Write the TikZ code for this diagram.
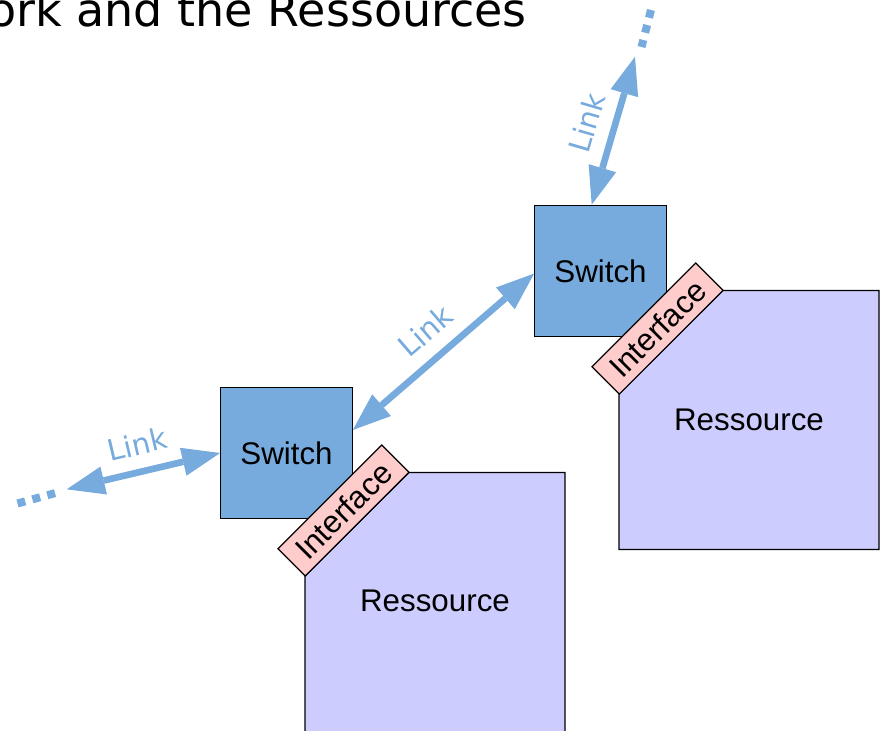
\documentclass[tikz,border=0pt]{standalone}
\usepackage{fontspec}
\setmainfont{Liberation Sans}
\newfontfamily\titlefont{DejaVu Sans}
\usetikzlibrary{arrows.meta}
\definecolor{switchblue}{RGB}{119,170,221}
\definecolor{linkblue}{RGB}{119,170,221}
\definecolor{resfill}{RGB}{204,204,255}
\definecolor{iffill}{RGB}{255,204,204}

\begin{document}
\begin{tikzpicture}[x=0.75pt,y=-0.75pt,
  outline/.style={draw=black, line width=0.9pt},
  switchbox/.style={outline, fill=switchblue, minimum width=98.6pt, minimum height=98.6pt,
    inner sep=0pt, font=\fontsize{23.5}{28}\selectfont},
  resource/.style={outline, fill=resfill},
  restext/.style={inner sep=0pt, font=\fontsize{23.5}{28}\selectfont},
  iface/.style={outline, fill=iffill, rotate=45, minimum width=110pt, minimum height=29pt,
    inner sep=0pt, font=\fontsize{23.5}{28}\selectfont},
  linkarrow/.style={draw=linkblue, line width=5pt,
    {Triangle[length=28.5pt,width=21.5pt,line width=0pt]}-{Triangle[length=28.5pt,width=21.5pt,line width=0pt]}},
  linklabel/.style={text=linkblue, inner sep=0pt, font=\titlefont\fontsize{22}{25}\selectfont},
  more/.style={draw=linkblue, line width=6pt, dash pattern=on 6pt off 5.6pt},
]
\useasboundingbox (0,0) rectangle (882,731);

% heading
\node[anchor=base east, inner sep=0pt, font=\titlefont\fontsize{34.5}{40}\selectfont]
  (title) at (527,27) {ork and the Ressources};

% first resource with its switch and interface
\path[resource] (409,472.5) -- (565,472.5) -- (565,745) -- (305,745) -- (305,576) -- cycle;
\node[restext] (res1) at (435,601) {Ressource};
\node[switchbox] (sw1) at (286.5,453) {Switch};
\node[iface] (if1) at (343.5,510.5) {Interface};

% second resource with its switch and interface
\path[resource] (723,290.5) -- (879,290.5) -- (879,549.5) -- (619,549.5) -- (619,394) -- cycle;
\node[restext] (res2) at (749,420) {Ressource};
\node[switchbox] (sw2) at (600.5,271) {Switch};
\node[iface] (if2) at (657.5,328.5) {Interface};

% open ends of the outer links
\coordinate (l1end) at (66.7,489.3);
\coordinate (l3end) at (635,56.7);
\coordinate (dotsAa) at (17.5,503.5);
\coordinate (dotsAb) at (55.5,493);
\coordinate (dotsBa) at (651,10);
\coordinate (dotsBb) at (641.5,47);

% links
\draw[linkarrow] (l1end) -- (sw1.west)
  node[linklabel, midway, sloped, above=10pt] (lab1) {Link};
\draw[linkarrow] ([yshift=17.25pt]sw1.east) -- ([yshift=-1.9pt]sw2.west)
  node[linklabel, midway, sloped, above=10pt] (lab2) {Link};
\draw[linkarrow] ([xshift=-6.6pt]sw2.north) -- (l3end)
  node[linklabel, midway, sloped, above=10pt] (lab3) {Link};

% continuation dots
\draw[more] (dotsAa) -- (dotsAb);
\draw[more] (dotsBa) -- (dotsBb);
\end{tikzpicture}
\end{document}
